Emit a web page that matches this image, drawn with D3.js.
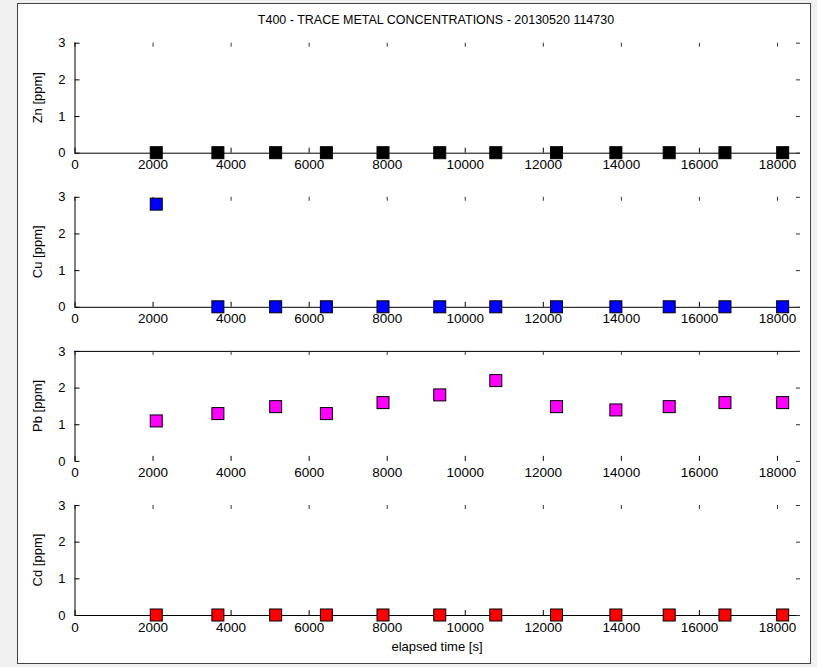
<!DOCTYPE html>
<html><head><meta charset="utf-8">
<script src="https://cdn.jsdelivr.net/npm/d3@7"></script>
<style>
html,body{margin:0;padding:0;background:#f0f0f0;}
svg{display:block;}
text{font-family:"Liberation Sans",Arial,sans-serif;fill:#000;}
</style></head>
<body>
<svg id="chart" width="817" height="667"></svg>
<script>
const titleText = "T400 - TRACE METAL CONCENTRATIONS - 20130520 114730";
const xLabel = "elapsed time [s]";
const times = [2095, 3674, 5154, 6454, 7905, 9359, 10795, 12351, 13872, 15238, 16667, 18146];
const znValues = [0, 0, 0, 0, 0, 0, 0, 0, 0, 0, 0, 0];
const cuValues = [2.8, 0, 0, 0, 0, 0, 0, 0, 0, 0, 0, 0];
const pbValues = [1.09, 1.29, 1.48, 1.29, 1.59, 1.80, 2.19, 1.48, 1.39, 1.48, 1.59, 1.59];
const cdValues = [0, 0, 0, 0, 0, 0, 0, 0, 0, 0, 0, 0];
const seriesNames = ["Zn [ppm]", "Cu [ppm]", "Pb [ppm]", "Cd [ppm]"];
const seriesColors = ["#000000", "#0000ff", "#ff00ff", "#ff0000"];
const xTicks = [0, 2000, 4000, 6000, 8000, 10000, 12000, 14000, 16000, 18000];
const yTicks = [0, 1, 2, 3];
const xDomain = [0, 18590];
const yDomain = [0, 3];

const seriesValues = [znValues, cuValues, pbValues, cdValues];

const svg = d3.select("#chart");
svg.append("rect").attr("x", 17.5).attr("y", 3.5).attr("width", 793).attr("height", 660)
  .attr("fill", "#fff").attr("stroke", "#444").attr("stroke-width", 1);

const left = 74.5, right = 800;
const panelH = 110, panelTop0 = 42.7, panelStep = 154.1;
const x = d3.scaleLinear().domain(xDomain).range([left, right]);

svg.append("text").attr("x", 436).attr("y", 24).attr("text-anchor", "middle")
  .attr("font-size", 12.5).text(titleText);

seriesValues.forEach((vals, i) => {
  const top = panelTop0 + i * panelStep;
  const bottom = top + panelH;
  const y = d3.scaleLinear().domain(yDomain).range([bottom, top]);
  const g = svg.append("g");

  const xb = d3.axisBottom(x).tickValues(xTicks).tickSize(-5).tickPadding(7).tickFormat(d3.format("d"));
  const gx = g.append("g").attr("transform", `translate(0,${bottom})`).call(xb);
  gx.select(".domain").attr("stroke", i === 2 ? "none" : "#000").attr("d", `M${left},0.5H${right}`);
  gx.selectAll("text").attr("font-size", 13.5).attr("font-family", "Liberation Sans, Arial, sans-serif");
  const xt = d3.axisTop(x).tickValues(xTicks).tickSize(-4).tickFormat("");
  const gt = g.append("g").attr("transform", `translate(0,${top})`).call(xt);
  gt.select(".domain").attr("stroke", i === 2 ? "#000" : "none").attr("d", `M${left},0.5H${right}`);
  gt.selectAll(".tick line").attr("stroke", "#333");

  const yl = d3.axisLeft(y).tickValues(yTicks).tickSize(-5).tickPadding(9).tickFormat(d3.format("d"));
  const gy = g.append("g").attr("transform", `translate(${left},0)`).call(yl);
  gy.select(".domain").attr("stroke", "#000").attr("d", `M0.5,${top}V${bottom}`);
  gy.selectAll("text").attr("font-size", 13).attr("font-family", "Liberation Sans, Arial, sans-serif");
  const yr = d3.axisRight(y).tickValues(yTicks).tickSize(-4).tickFormat("");
  const gr = g.append("g").attr("transform", `translate(${right},0)`).call(yr);
  gr.select(".domain").attr("stroke", "none");
  gr.selectAll(".tick line").attr("stroke", "#333");

  g.append("text").attr("transform", `translate(42,${(top + bottom) / 2}) rotate(-90)`)
    .attr("text-anchor", "middle").attr("font-size", 13).text(seriesNames[i]);

  const ms = 12;
  g.selectAll("rect.m").data(vals.map((v, k) => ({t: times[k], v}))).join("rect")
    .attr("class", "m")
    .attr("x", d => x(d.t) - ms / 2).attr("y", d => y(d.v) - ms / 2)
    .attr("width", ms).attr("height", ms)
    .attr("fill", seriesColors[i]).attr("stroke", "#000").attr("stroke-width", 1);
});

svg.append("text").attr("x", 437).attr("y", 651).attr("text-anchor", "middle")
  .attr("font-size", 13).text(xLabel);
</script>
</body></html>
